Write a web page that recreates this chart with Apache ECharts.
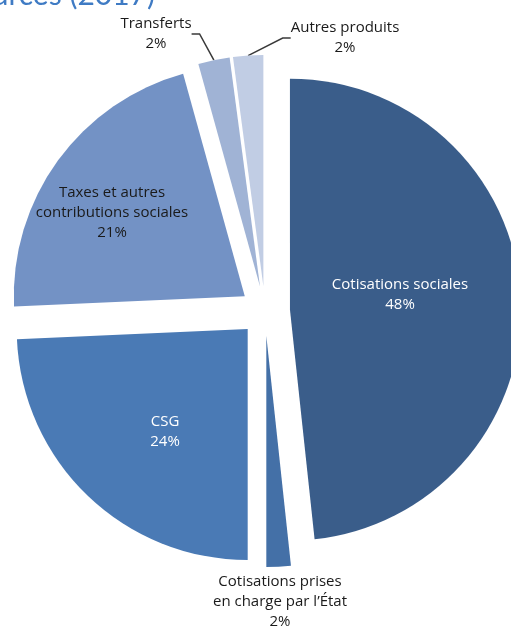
<!DOCTYPE html>
<html>
<head>
<meta charset="utf-8">
<script src="https://cdn.jsdelivr.net/npm/echarts@6/dist/echarts.min.js"></script>
<style>
html,body{margin:0;padding:0;background:#fff;}
#c{width:511px;height:626px;}
</style>
</head>
<body>
<div id="c"></div>
<script>
var categories = ['Cotisations sociales', 'Cotisations prises\nen charge par l\u2019\u00c9tat', 'CSG', 'Taxes et autres\ncontributions sociales', 'Transferts', 'Autres produits'];
var shares = [48.3, 1.7, 24.3, 21.4, 2.2, 2.1];
var colors = ['#3A5D8A', '#4470A7', '#4A7AB5', '#7392C5', '#A0B3D5', '#C1CDE4'];
var labelColors = ['#ffffff', '#1a1a1a', '#ffffff', '#1a1a1a', '#1a1a1a', '#1a1a1a'];
var titleText = 'ressources (2017)';

var labelPos = [[400, 295], [280, 602], [165, 432], [112, 213], [156, 34], [345, 38]];
var pieCenter = [265, 311];
var pieRadius = 231;
var explode = 25;

var total = shares.reduce(function (a, b) { return a + b; }, 0);
var cum = 0;
var series = categories.map(function (name, i) {
  var mid = (cum + shares[i] / 2) / total * 2 * Math.PI;
  cum += shares[i];
  var cx = pieCenter[0] + explode * Math.sin(mid);
  var cy = pieCenter[1] - explode * Math.cos(mid);
  var outer = (i === 4 || i === 5);
  return {
    type: 'pie',
    center: [cx, cy],
    radius: pieRadius,
    startAngle: 90,
    clockwise: true,
    avoidLabelOverlap: false,
    silent: true,
    emphasis: {disabled: true},
    label: {
      fontFamily: 'Open Sans',
      fontSize: 15,
      lineHeight: 20,
      align: 'center',
      formatter: function (p) { return p.name + '\n' + Math.round(p.value) + '%'; }
    },
    labelLine: {lineStyle: {color: '#3a3a3a', width: 1.5}, length: 20, length2: 8},
    labelLayout: function (p) {
      if (p.dataIndex !== i) return {};
      var pos = labelPos[i];
      return {x: pos[0], y: pos[1], align: 'center', verticalAlign: 'middle'};
    },
    data: categories.map(function (n, j) {
      var vis = (j === i);
      return {
        name: n,
        value: shares[j],
        itemStyle: {color: vis ? colors[j] : 'rgba(0,0,0,0)', borderWidth: 0},
        label: {show: vis, position: (i === 1 || outer) ? 'outside' : 'inside', color: labelColors[j]},
        labelLine: {show: vis && outer}
      };
    })
  };
});

var chart = echarts.init(document.getElementById('c'), null, {renderer: 'canvas'});
chart.setOption({
  animation: false,
  backgroundColor: '#ffffff',
  graphic: [{
    type: 'text',
    style: {
      text: titleText, x: 155, y: 10, align: 'right', verticalAlign: 'bottom',
      fill: '#3F7BC4', font: '30px Lato'
    }
  }],
  series: series
});
</script>
</body>
</html>
